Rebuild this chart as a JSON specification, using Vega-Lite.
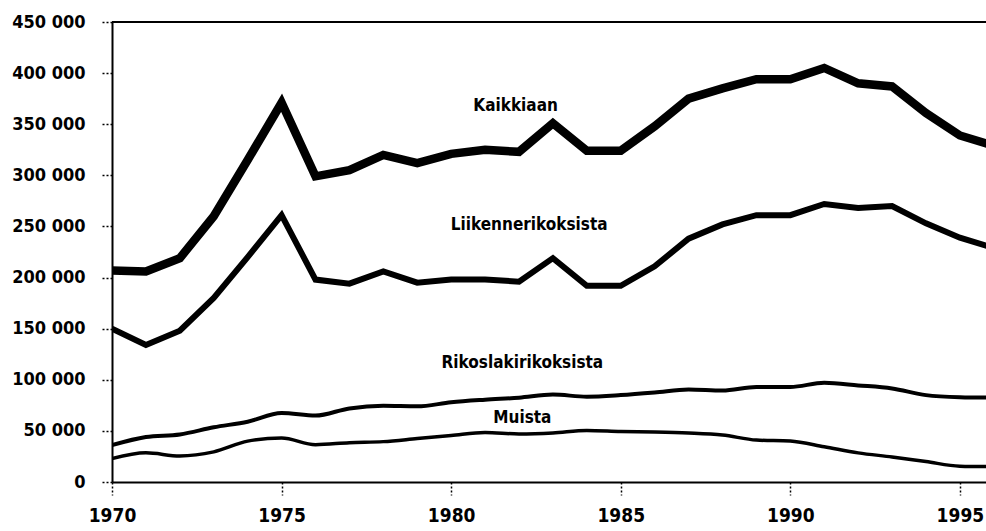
{
  "$schema": "https://vega.github.io/schema/vega-lite/v6.json",
  "autosize": "none",
  "width": 874,
  "height": 460,
  "padding": {"left": 112, "top": 22, "right": 0, "bottom": 49},
  "background": "white",
  "config": {
    "view": {"stroke": null},
    "font": "'DejaVu Sans Condensed', 'Roboto Condensed', 'Arial Narrow', Roboto, sans-serif"
  },
  "datasets": {
    "lines": [
      {"year": 1970, "series": "Kaikkiaan", "value": 207000},
      {"year": 1971, "series": "Kaikkiaan", "value": 206000},
      {"year": 1972, "series": "Kaikkiaan", "value": 219000},
      {"year": 1973, "series": "Kaikkiaan", "value": 260000},
      {"year": 1974, "series": "Kaikkiaan", "value": 315000},
      {"year": 1975, "series": "Kaikkiaan", "value": 371000},
      {"year": 1976, "series": "Kaikkiaan", "value": 299000},
      {"year": 1977, "series": "Kaikkiaan", "value": 305000},
      {"year": 1978, "series": "Kaikkiaan", "value": 320000},
      {"year": 1979, "series": "Kaikkiaan", "value": 312000},
      {"year": 1980, "series": "Kaikkiaan", "value": 321000},
      {"year": 1981, "series": "Kaikkiaan", "value": 325000},
      {"year": 1982, "series": "Kaikkiaan", "value": 323000},
      {"year": 1983, "series": "Kaikkiaan", "value": 351000},
      {"year": 1984, "series": "Kaikkiaan", "value": 324000},
      {"year": 1985, "series": "Kaikkiaan", "value": 324000},
      {"year": 1986, "series": "Kaikkiaan", "value": 348000},
      {"year": 1987, "series": "Kaikkiaan", "value": 375000},
      {"year": 1988, "series": "Kaikkiaan", "value": 385000},
      {"year": 1989, "series": "Kaikkiaan", "value": 394000},
      {"year": 1990, "series": "Kaikkiaan", "value": 394000},
      {"year": 1991, "series": "Kaikkiaan", "value": 405000},
      {"year": 1992, "series": "Kaikkiaan", "value": 390000},
      {"year": 1993, "series": "Kaikkiaan", "value": 387000},
      {"year": 1994, "series": "Kaikkiaan", "value": 361000},
      {"year": 1995, "series": "Kaikkiaan", "value": 339000},
      {"year": 1996, "series": "Kaikkiaan", "value": 329000},
      {"year": 1970, "series": "Liikennerikoksista", "value": 150000},
      {"year": 1971, "series": "Liikennerikoksista", "value": 134000},
      {"year": 1972, "series": "Liikennerikoksista", "value": 148000},
      {"year": 1973, "series": "Liikennerikoksista", "value": 180000},
      {"year": 1974, "series": "Liikennerikoksista", "value": 220000},
      {"year": 1975, "series": "Liikennerikoksista", "value": 261000},
      {"year": 1976, "series": "Liikennerikoksista", "value": 198000},
      {"year": 1977, "series": "Liikennerikoksista", "value": 194000},
      {"year": 1978, "series": "Liikennerikoksista", "value": 206000},
      {"year": 1979, "series": "Liikennerikoksista", "value": 195000},
      {"year": 1980, "series": "Liikennerikoksista", "value": 198000},
      {"year": 1981, "series": "Liikennerikoksista", "value": 198000},
      {"year": 1982, "series": "Liikennerikoksista", "value": 196000},
      {"year": 1983, "series": "Liikennerikoksista", "value": 219000},
      {"year": 1984, "series": "Liikennerikoksista", "value": 192000},
      {"year": 1985, "series": "Liikennerikoksista", "value": 192000},
      {"year": 1986, "series": "Liikennerikoksista", "value": 211000},
      {"year": 1987, "series": "Liikennerikoksista", "value": 238000},
      {"year": 1988, "series": "Liikennerikoksista", "value": 252000},
      {"year": 1989, "series": "Liikennerikoksista", "value": 261000},
      {"year": 1990, "series": "Liikennerikoksista", "value": 261000},
      {"year": 1991, "series": "Liikennerikoksista", "value": 272000},
      {"year": 1992, "series": "Liikennerikoksista", "value": 268000},
      {"year": 1993, "series": "Liikennerikoksista", "value": 270000},
      {"year": 1994, "series": "Liikennerikoksista", "value": 253000},
      {"year": 1995, "series": "Liikennerikoksista", "value": 239000},
      {"year": 1996, "series": "Liikennerikoksista", "value": 229000},
      {"year": 1970, "series": "Rikoslakirikoksista", "value": 36000},
      {"year": 1971, "series": "Rikoslakirikoksista", "value": 44000},
      {"year": 1972, "series": "Rikoslakirikoksista", "value": 46500},
      {"year": 1973, "series": "Rikoslakirikoksista", "value": 53500},
      {"year": 1974, "series": "Rikoslakirikoksista", "value": 59000},
      {"year": 1975, "series": "Rikoslakirikoksista", "value": 67500},
      {"year": 1976, "series": "Rikoslakirikoksista", "value": 65000},
      {"year": 1977, "series": "Rikoslakirikoksista", "value": 72000},
      {"year": 1978, "series": "Rikoslakirikoksista", "value": 74500},
      {"year": 1979, "series": "Rikoslakirikoksista", "value": 74000},
      {"year": 1980, "series": "Rikoslakirikoksista", "value": 78000},
      {"year": 1981, "series": "Rikoslakirikoksista", "value": 80500},
      {"year": 1982, "series": "Rikoslakirikoksista", "value": 82500},
      {"year": 1983, "series": "Rikoslakirikoksista", "value": 85500},
      {"year": 1984, "series": "Rikoslakirikoksista", "value": 83500},
      {"year": 1985, "series": "Rikoslakirikoksista", "value": 85000},
      {"year": 1986, "series": "Rikoslakirikoksista", "value": 87500},
      {"year": 1987, "series": "Rikoslakirikoksista", "value": 90500},
      {"year": 1988, "series": "Rikoslakirikoksista", "value": 89500},
      {"year": 1989, "series": "Rikoslakirikoksista", "value": 93000},
      {"year": 1990, "series": "Rikoslakirikoksista", "value": 93000},
      {"year": 1991, "series": "Rikoslakirikoksista", "value": 97000},
      {"year": 1992, "series": "Rikoslakirikoksista", "value": 94500},
      {"year": 1993, "series": "Rikoslakirikoksista", "value": 91500},
      {"year": 1994, "series": "Rikoslakirikoksista", "value": 85000},
      {"year": 1995, "series": "Rikoslakirikoksista", "value": 83000},
      {"year": 1996, "series": "Rikoslakirikoksista", "value": 82500},
      {"year": 1970, "series": "Muista", "value": 23000},
      {"year": 1971, "series": "Muista", "value": 28500},
      {"year": 1972, "series": "Muista", "value": 25500},
      {"year": 1973, "series": "Muista", "value": 29500},
      {"year": 1974, "series": "Muista", "value": 40000},
      {"year": 1975, "series": "Muista", "value": 43000},
      {"year": 1976, "series": "Muista", "value": 36500},
      {"year": 1977, "series": "Muista", "value": 38500},
      {"year": 1978, "series": "Muista", "value": 39500},
      {"year": 1979, "series": "Muista", "value": 42500},
      {"year": 1980, "series": "Muista", "value": 45500},
      {"year": 1981, "series": "Muista", "value": 48500},
      {"year": 1982, "series": "Muista", "value": 47000},
      {"year": 1983, "series": "Muista", "value": 48000},
      {"year": 1984, "series": "Muista", "value": 50500},
      {"year": 1985, "series": "Muista", "value": 49500},
      {"year": 1986, "series": "Muista", "value": 49000},
      {"year": 1987, "series": "Muista", "value": 48000},
      {"year": 1988, "series": "Muista", "value": 46000},
      {"year": 1989, "series": "Muista", "value": 41000},
      {"year": 1990, "series": "Muista", "value": 40000},
      {"year": 1991, "series": "Muista", "value": 34500},
      {"year": 1992, "series": "Muista", "value": 28500},
      {"year": 1993, "series": "Muista", "value": 24500},
      {"year": 1994, "series": "Muista", "value": 20000},
      {"year": 1995, "series": "Muista", "value": 15500},
      {"year": 1996, "series": "Muista", "value": 15000}
    ],
    "labels": [
      {"year": 1981.9, "value": 368000, "text": "Kaikkiaan"},
      {"year": 1982.3, "value": 251000, "text": "Liikennerikoksista"},
      {"year": 1982.1, "value": 116000, "text": "Rikoslakirikoksista"},
      {"year": 1982.1, "value": 63000, "text": "Muista"}
    ]
  },
  "encoding": {
    "x": {
      "field": "year", "type": "quantitative",
      "scale": {"domain": [1970, 1995.77], "nice": false, "zero": false},
      "axis": {
        "title": null, "values": [1970, 1975, 1980, 1985, 1990, 1995], "format": "d",
        "grid": false, "domainColor": "black", "domainWidth": 2,
        "tickColor": "black", "tickSize": 13, "tickWidth": 1.5, "tickDash": [2, 2],
        "labelFontSize": 19, "labelFontWeight": "bold", "labelColor": "black",
        "labelPadding": 11, "labelFlush": false
      }
    },
    "y": {
      "field": "value", "type": "quantitative",
      "scale": {"domain": [0, 450000], "nice": false},
      "axis": {
        "title": null, "values": [0, 50000, 100000, 150000, 200000, 250000, 300000, 350000, 400000, 450000],
        "labelExpr": "replace(format(datum.value, ',d'), ',', ' ')",
        "grid": false, "domainColor": "black", "domainWidth": 2,
        "tickColor": "black", "tickSize": 12, "tickWidth": 1.5, "tickDash": [2, 2],
        "labelFontSize": 18, "labelFontWeight": "bold", "labelColor": "black",
        "labelPadding": 15
      }
    }
  },
  "layer": [
    {
      "data": {"name": "lines"},
      "transform": [{"filter": "datum.series === 'Kaikkiaan'"}],
      "mark": {"type": "line", "color": "black", "strokeWidth": 8.5, "clip": true, "strokeJoin": "miter", "strokeMiterLimit": 3}
    },
    {
      "data": {"name": "lines"},
      "transform": [{"filter": "datum.series === 'Liikennerikoksista'"}],
      "mark": {"type": "line", "color": "black", "strokeWidth": 6, "clip": true, "strokeJoin": "miter", "strokeMiterLimit": 3}
    },
    {
      "data": {"name": "lines"},
      "transform": [{"filter": "datum.series === 'Rikoslakirikoksista'"}],
      "mark": {"type": "line", "color": "black", "strokeWidth": 4, "clip": true, "interpolate": "monotone"}
    },
    {
      "data": {"name": "lines"},
      "transform": [{"filter": "datum.series === 'Muista'"}],
      "mark": {"type": "line", "color": "black", "strokeWidth": 3.5, "clip": true, "interpolate": "monotone"}
    },
    {
      "data": {"values": [{"value": 450000}]},
      "mark": {"type": "rule", "color": "black", "strokeWidth": 2},
      "encoding": {"y": {"field": "value", "type": "quantitative"}, "x": null}
    },
    {
      "data": {"name": "labels"},
      "mark": {"type": "text", "color": "black", "fontSize": 17, "fontWeight": "bold", "align": "center", "baseline": "middle"},
      "encoding": {"text": {"field": "text"}}
    }
  ]
}
